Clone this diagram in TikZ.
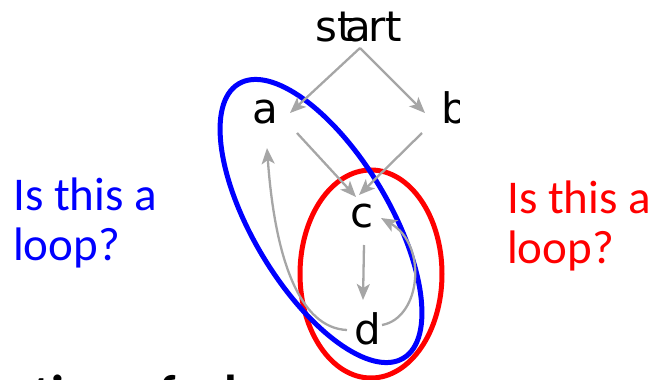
\documentclass[tikz,border=0pt]{standalone}
\usepackage{fontspec}
\setmainfont{Carlito}
\newfontfamily\lblfont{DejaVu Sans}
\usetikzlibrary{arrows.meta,calc}
\definecolor{arrowgray}{RGB}{166,166,166}
\definecolor{loopblue}{RGB}{0,0,255}
\definecolor{loopred}{RGB}{255,0,0}
\begin{document}
\begin{tikzpicture}[x=1pt,y=1pt,
  lbl/.style={font=\lblfont\fontsize{42}{42}\selectfont, inner sep=0pt},
  edge/.style={draw=arrowgray, line width=2.3pt, -{Stealth[length=16pt,width=13pt,inset=4pt]}},
  qtext/.style={font=\fontsize{47}{50}\selectfont, inner sep=0pt, anchor=base west},
  ring/.style={line width=5pt}]
\useasboundingbox (0,0) rectangle (654,-380);
\clip (0,0) rectangle (654,-380);

% node labels
\node[lbl] (start) at (359,-27) {st\kern-8pt a\kern-3pt rt};
\node[lbl] (a) at (265,-112) {a};
\node[lbl] (b) at (455,-108) {b};
\node[lbl] (c) at (362.5,-216.5) {c};
\node[lbl] (d) at (368,-329) {d};

% loops
\draw[ring, loopred] (371,-274) ellipse [x radius=71, y radius=104];
\draw[ring, loopblue, rotate around={-59:(321,-221)}] (321,-221) ellipse [x radius=160, y radius=68];

% edges
\draw[edge] ($(start)+(1,-21)$) -- ($(a)+(25,-1)$);
\draw[edge] ($(start)+(1,-21)$) -- ($(b)+(-30,-5)$);
\draw[edge] ($(a)+(32,-21)$) -- ($(c)+(-6.5,19.5)$);
\draw[edge] ($(b)+(-33,-25)$) -- ($(c)+(-3.5,21.5)$);
\draw[edge] ($(c)+(1.5,-28.5)$) -- ($(d)+(-5,29)$);
\draw[edge] ($(d)+(14,4)$) .. controls (421,-318) and (428,-245) .. ($(c)+(18.5,-1.5)$);
\draw[edge] ($(d)+(-21,-1)$) .. controls (300,-328) and (275,-260) .. ($(a)+(2,-36)$);

% white box of the right-hand label, hiding part of b
\fill[white] (460,-80) rectangle (505,-135);

% questions
\node[qtext, text=loopblue] (q1a) at (13,-210) {Is this a};
\node[qtext, text=loopblue] (q1b) at (13,-260) {loop?};
\node[qtext, text=loopred] (q2a) at (507,-213) {Is this a};
\node[qtext, text=loopred] (q2b) at (507,-263) {loop?};

% cut-off heading at the bottom
\node[font=\bfseries\fontsize{52}{52}\selectfont, anchor=base west, inner sep=0pt] (title) at (33,-411) {tion of a l};
\end{tikzpicture}
\end{document}
